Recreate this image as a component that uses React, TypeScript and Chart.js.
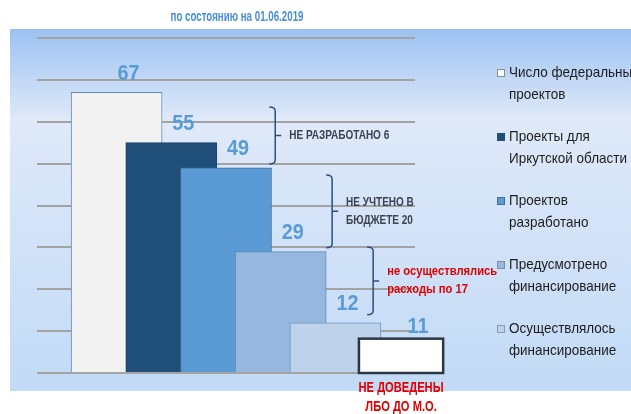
import { useEffect, useRef } from 'react';
import { Chart, registerables } from 'chart.js';

Chart.register(...registerables);

// ---------- data ----------
const titleText = 'по состоянию на 01.06.2019';
const seriesNames: string[][] = [
  ['Число федеральных', 'проектов'],
  ['Проекты для', 'Иркутской области'],
  ['Проектов', 'разработано'],
  ['Предусмотрено', 'финансирование'],
  ['Осуществлялось', 'финансирование'],
];
const seriesValues = [67, 55, 49, 29, 12];
const seriesColors = ['#f2f2f2', '#1f4e79', '#5b9bd5', '#96b8df', '#bed2ec'];
const seriesBorders = ['#5f89b8', '#1a4466', '#41719c', '#5f89b8', '#6e94c2'];
const legendBorders = ['#8c8c8c', '#1f4e79', '#41719c', '#7f8fa8', '#8c9bb0'];
const notDeliveredValue = 11;
const notDeliveredText = ['НЕ ДОВЕДЕНЫ', 'ЛБО ДО М.О.'];
const yTickValues = [0, 10, 20, 30, 40, 50, 60, 70, 80];
const gapTexts: string[][] = [
  ['НЕ РАЗРАБОТАНО 6'],
  ['НЕ УЧТЕНО В', 'БЮДЖЕТЕ 20'],
  ['не осуществлялись', 'расходы по 17'],
];
const gapBracketX = [2.9, 3.94, 4.69];
const gapFrom = [63.5, 47.3, 30.1];
const gapTo = [49.9, 29.9, 13.9];
const gapColors = ['#3c4250', '#3c4250', '#e00000'];

const FONT = "'Liberation Sans', Arial, sans-serif";

function condensed(ctx: CanvasRenderingContext2D, font: string, refText: string, refWidth: number) {
  ctx.font = font;
  return refWidth / ctx.measureText(refText).width;
}

function drawText(ctx: CanvasRenderingContext2D, text: string, x: number, y: number, sx: number, align: 'left' | 'center') {
  ctx.save();
  ctx.translate(x, y);
  ctx.scale(sx, 1);
  ctx.textAlign = align;
  ctx.textBaseline = 'middle';
  ctx.fillText(text, 0, 0);
  ctx.restore();
}

export default function App() {
  const ref = useRef<HTMLCanvasElement | null>(null);

  useEffect(() => {
    const canvas = ref.current;
    if (!canvas) return;

    const decorPlugin = {
      id: 'decor',
      beforeDraw(chart: any) {
        const ctx = chart.ctx as CanvasRenderingContext2D;
        ctx.save();
        ctx.fillStyle = '#ffffff';
        ctx.fillRect(0, 0, chart.width, chart.height);
        const g = ctx.createLinearGradient(0, 29, 0, 391);
        g.addColorStop(0, '#9cc2f2');
        g.addColorStop(0.25, '#dfe9f9');
        g.addColorStop(0.55, '#d3e3f8');
        g.addColorStop(1, '#c2daf6');
        ctx.fillStyle = g;
        ctx.fillRect(10, 29, chart.width - 10, 362);
        ctx.restore();
      },
      afterDatasetsDraw(chart: any) {
        const ctx = chart.ctx as CanvasRenderingContext2D;
        const xs = chart.scales.x;
        const ys = chart.scales.y;
        ctx.save();
        // value labels
        const labelFont = `bold 22px ${FONT}`;
        const sxLabel = condensed(ctx, labelFont, '67', 22);
        ctx.font = labelFont;
        ctx.fillStyle = '#5b9bd5';
        chart.data.datasets.forEach((ds: any, i: number) => {
          const el = chart.getDatasetMeta(i).data[0];
          if (!el) return;
          drawText(ctx, String(seriesValues[i]), el.x + 12, el.y - 19, sxLabel, 'center');
        });
        // "not delivered" box
        const bx0 = xs.getPixelForValue(4.43);
        const bx1 = xs.getPixelForValue(5.97);
        const by0 = ys.getPixelForValue(8.2);
        const by1 = ys.getPixelForValue(0);
        ctx.fillStyle = '#ffffff';
        ctx.fillRect(bx0, by0, bx1 - bx0, by1 - by0);
        ctx.strokeStyle = '#2b3645';
        ctx.lineWidth = 2.5;
        ctx.strokeRect(bx0, by0, bx1 - bx0, by1 - by0);
        ctx.fillStyle = '#5b9bd5';
        ctx.font = labelFont;
        drawText(ctx, String(notDeliveredValue), (bx0 + bx1) / 2 + 17, ys.getPixelForValue(notDeliveredValue), sxLabel, 'center');
        // brackets + notes
        const noteFont = `bold 12px ${FONT}`;
        const sxNote = condensed(ctx, noteFont, 'НЕ РАЗРАБОТАНО 6', 100);
        const sxNoteRed = condensed(ctx, noteFont, 'не осуществлялись', 110);
        gapTexts.forEach((lines, i) => {
          const x = xs.getPixelForValue(gapBracketX[i]);
          const yT = ys.getPixelForValue(gapFrom[i]);
          const yB = ys.getPixelForValue(gapTo[i]);
          const yM = (yT + yB) / 2;
          ctx.strokeStyle = '#2f4f80';
          ctx.lineWidth = 1.5;
          ctx.beginPath();
          ctx.moveTo(x - 6, yT);
          ctx.quadraticCurveTo(x, yT, x, yT + 4);
          ctx.lineTo(x, yB - 4);
          ctx.quadraticCurveTo(x, yB, x - 6, yB);
          ctx.moveTo(x, yM);
          ctx.lineTo(x + 6, yM);
          ctx.stroke();
          ctx.fillStyle = gapColors[i];
          ctx.font = noteFont;
          const lh = 18;
          const start = yM - ((lines.length - 1) * lh) / 2;
          const sx = gapColors[i] === '#e00000' ? sxNoteRed : sxNote;
          lines.forEach((t, k) => drawText(ctx, t, x + 14, start + k * lh, sx, 'left'));
        });
        // bottom red text
        const redFont = `bold 15px ${FONT}`;
        const sxRed = condensed(ctx, redFont, notDeliveredText[0], 85);
        ctx.fillStyle = '#e00000';
        ctx.font = redFont;
        const cx = (bx0 + bx1) / 2;
        drawText(ctx, notDeliveredText[0], cx, by1 + 15, sxRed, 'center');
        drawText(ctx, notDeliveredText[1], cx, by1 + 34, sxRed, 'center');
        ctx.restore();
      },
      afterDraw(chart: any) {
        const ctx = chart.ctx as CanvasRenderingContext2D;
        ctx.save();
        // title
        const titleFont = `bold 14px ${FONT}`;
        const sxTitle = condensed(ctx, titleFont, titleText, 133);
        ctx.font = titleFont;
        ctx.fillStyle = '#4a8fd8';
        drawText(ctx, titleText, 237, 17, sxTitle, 'center');
        // legend
        const legFont = `15px ${FONT}`;
        const sxLeg = condensed(ctx, legFont, 'Иркутской области', 118);
        seriesNames.forEach((lines, i) => {
          const y = 73 + i * 64;
          ctx.fillStyle = seriesColors[i] === '#f2f2f2' ? '#ffffff' : seriesColors[i];
          ctx.fillRect(497, y - 4, 8, 8);
          ctx.strokeStyle = legendBorders[i];
          ctx.lineWidth = 1;
          ctx.strokeRect(497.5, y - 3.5, 7, 7);
          ctx.fillStyle = '#1e1e1e';
          ctx.font = legFont;
          lines.forEach((t, k) => drawText(ctx, t, 509, y + k * 22, sxLeg, 'left'));
        });
        ctx.restore();
      },
    };

    const chart = new Chart(canvas, {
      type: 'bar',
      data: {
        datasets: seriesValues.map((v, i) => ({
          label: seriesNames[i].join(' '),
          data: [{ x: i, y: v }],
          backgroundColor: seriesColors[i],
          borderColor: seriesBorders[i],
          borderWidth: 1,
          barThickness: 91,
          grouped: false,
          order: seriesValues.length - i,
        })),
      },
      options: {
        animation: false,
        responsive: false,
        devicePixelRatio: 1,
        layout: { padding: { left: 37, right: 216, top: 38, bottom: 41 } },
        plugins: { legend: { display: false }, tooltip: { enabled: false }, title: { display: false } },
        scales: {
          x: { type: 'linear', min: -1.455, max: 5.455, offset: false, display: false },
          y: {
            min: 0,
            max: 80,
            afterBuildTicks: (s: any) => { s.ticks = yTickValues.map((v) => ({ value: v })); },
            afterFit: (s: any) => { s.width = 0; },
            ticks: { display: false },
            border: { display: false },
            grid: { color: '#a3a3a3', lineWidth: 2, drawTicks: false },
          },
        },
      },
      plugins: [decorPlugin],
    } as any);

    return () => chart.destroy();
  }, []);

  return (
    <div style={{ position: 'fixed', left: 0, top: 0, width: 631, height: 414, background: '#fff' }}>
      <canvas ref={ref} width={631} height={414} style={{ width: 631, height: 414, display: 'block' }} />
    </div>
  );
}
